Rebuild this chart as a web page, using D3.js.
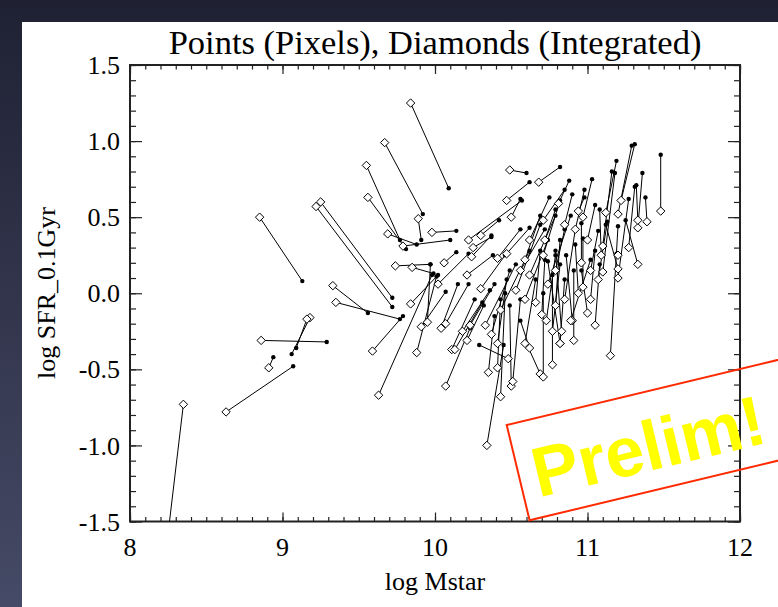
<!DOCTYPE html>
<html><head><meta charset="utf-8">
<script src="https://cdn.jsdelivr.net/npm/d3@7"></script>
<style>html,body{margin:0;padding:0;background:#2e3044;}svg{display:block}</style>
</head><body><svg id="c" width="778" height="607"></svg>
<script>
// ---- data ----
const titleText = "Points (Pixels), Diamonds (Integrated)";
const xLabel = "log Mstar";
const yLabel = "log SFR_0.1Gyr";
const xTicks = [8, 9, 10, 11, 12];
const xTickLabels = ["8", "9", "10", "11", "12"];
const yTicks = [-1.5, -1.0, -0.5, 0.0, 0.5, 1.0, 1.5];
const yTickLabels = ["-1.5", "-1.0", "-0.5", "0.0", "0.5", "1.0", "1.5"];
// integrated (diamonds)
const diamondX = [8.35,8.63,8.85,8.86,9.18,9.16,8.91,9.22,9.25,9.33,9.35,9.84,9.67,9.55,9.56,9.89,9.69,9.79,9.98,9.74,9.85,9.84,10.06,9.59,9.63,9.88,9.91,9.95,
10.49,10.47,10.68,10.50,10.22,10.30,10.25,10.24,10.02,10.21,10.41,10.47,11.48,11.22,11.20,11.12,11.10,11.10,11.33,11.33,11.27,11.39,11.20,11.33,11.15,11.20,11.09,10.97,10.81,10.94,11.02,10.96,10.97,
10.34,10.07,10.48,10.35,10.41,10.43,11.00,10.91,10.90,10.82,10.83,10.94,10.04,10.07,10.11,10.13,10.18,10.21,10.23,10.37,10.41,10.50,10.51,10.69,10.71,10.77,10.62,10.59,10.70,10.73,10.66,10.77,10.82,
10.71,10.71,10.53,10.59,10.43,10.62,10.74,10.56,10.30,10.33,10.85,11.02,11.05,10.89,10.79,11.07,11.00,10.92,10.85,10.72,10.62,10.59,10.79,11.20];
const diamondY = [-0.73,-0.78,0.50,-0.31,-0.16,-0.17,-0.49,0.57,0.60,0.05,-0.06,1.25,0.99,0.84,0.63,0.49,0.39,0.31,0.40,0.18,0.17,-0.07,0.20,-0.38,-0.67,-0.39,-0.22,-0.19,
0.81,0.61,0.73,0.50,0.35,0.38,0.30,0.24,0.06,0.12,0.23,0.26,0.54,0.61,0.52,0.53,0.31,0.14,0.43,0.48,0.30,0.47,0.10,0.19,-0.41,0.25,0.25,0.50,0.59,0.54,0.15,0.20,0.04,
-1.00,-0.61,-0.43,-0.52,-0.49,-0.68,-0.13,-0.31,-0.18,-0.33,-0.25,0.00,-0.23,-0.20,-0.37,-0.37,-0.25,-0.31,-0.21,-0.27,-0.33,-0.61,-0.58,-0.53,-0.55,-0.47,-0.36,-0.33,-0.14,-0.18,-0.06,-0.25,-0.33,
0.25,0.48,0.02,-0.04,-0.11,0.12,0.06,0.15,0.03,-0.21,-0.04,-0.04,-0.21,-0.18,-0.08,0.09,0.35,0.42,0.45,0.35,0.35,0.22,0.15,0.16];
// pixel-based (points)
const pointX = [8.20,9.07,9.13,9.29,9.06,9.09,8.94,9.72,9.72,9.56,9.77,10.09,9.92,9.77,9.81,9.91,9.88,10.10,10.14,9.97,9.99,10.02,10.14,9.79,9.98,10.01,10.07,9.97,
10.60,10.62,10.82,10.56,10.57,10.42,10.37,10.37,10.22,10.38,10.56,10.62,11.48,11.31,11.29,11.19,11.16,11.18,11.36,11.32,11.31,11.38,11.27,11.25,11.20,11.19,11.08,11.03,10.88,10.98,11.07,10.96,10.97,
10.45,10.23,10.29,10.39,10.43,10.46,10.96,10.91,10.86,10.74,10.79,10.92,10.15,10.22,10.26,10.31,10.36,10.32,10.39,10.49,10.47,10.49,10.56,10.60,10.71,10.77,10.56,10.66,10.72,10.79,10.69,10.82,10.85,
10.82,10.85,10.69,10.74,10.62,10.79,10.89,10.72,10.46,10.53,10.92,11.05,11.08,11.02,10.82,11.13,11.05,10.98,10.90,10.79,10.75,10.69,10.85,11.12];
const pointY = [-2.00,-0.48,0.08,-0.32,-0.40,-0.36,-0.42,-0.09,-0.03,-0.13,-0.17,0.69,0.52,0.35,0.29,0.35,0.32,0.35,0.41,0.19,0.13,0.12,0.27,-0.15,0.12,0.11,0.01,0.19,
0.79,0.73,0.83,0.62,0.61,0.48,0.37,0.38,0.26,0.25,0.42,0.43,0.91,0.98,0.97,0.87,0.80,0.79,0.79,0.71,0.70,0.63,0.62,0.48,0.44,0.26,0.55,0.75,0.74,0.63,0.41,0.46,0.36,
-0.34,-0.23,-0.34,-0.15,-0.04,0.00,0.15,0.15,0.25,0.21,0.28,0.32,0.06,0.06,-0.04,-0.06,0.02,-0.08,0.06,0.15,0.09,-0.08,-0.04,-0.33,0.00,0.12,-0.18,0.09,0.22,0.25,0.28,0.19,0.09,
0.61,0.68,0.45,0.35,0.28,0.51,0.51,0.42,0.25,0.19,0.42,0.28,0.19,0.22,0.35,0.47,0.58,0.68,0.65,0.55,0.63,0.51,0.42,0.45];

// ---- drawing ----
const W = 778, H = 607;
const svg = d3.select("#c");
const defs = svg.append("defs");
const g0 = defs.append("linearGradient").attr("id","bg").attr("x1","0").attr("y1","0").attr("x2","0").attr("y2","1");
g0.append("stop").attr("offset","0").attr("stop-color","#1f2133");
g0.append("stop").attr("offset","1").attr("stop-color","#454a66");
svg.append("rect").attr("width",W).attr("height",H).attr("fill","url(#bg)");
svg.append("rect").attr("x",22).attr("y",22).attr("width",W-22).attr("height",H-22).attr("fill","#ffffff");

const x = d3.scaleLinear().domain([8,12]).range([130,740]);
const y = d3.scaleLinear().domain([-1.5,1.5]).range([521.5,65]);

defs.append("clipPath").attr("id","plotclip").append("rect")
  .attr("x",130).attr("y",65).attr("width",610).attr("height",456.5);

const serif = "'Liberation Serif','Times New Roman',serif";

svg.append("text").attr("x",435).attr("y",54).attr("text-anchor","middle")
  .attr("font-family",serif).attr("font-size",34.5).attr("fill","#000").text(titleText);

const xMinor = d3.range(80,121).map(v=>v/10);
const yMinor = d3.range(-15,16).map(v=>v/10);
function styleAxis(sel){ sel.select(".domain").remove(); sel.selectAll("line").attr("stroke","#222").attr("stroke-width",1.2); }
svg.append("g").attr("transform","translate(0,521.5)").call(d3.axisBottom(x).tickValues(xMinor).tickSize(-4.5).tickFormat("")).call(styleAxis);
svg.append("g").attr("transform","translate(0,521.5)").call(d3.axisBottom(x).tickValues(xTicks).tickSize(-9).tickFormat("")).call(styleAxis);
svg.append("g").attr("transform","translate(0,65)").call(d3.axisTop(x).tickValues(xMinor).tickSize(-4.5).tickFormat("")).call(styleAxis);
svg.append("g").attr("transform","translate(0,65)").call(d3.axisTop(x).tickValues(xTicks).tickSize(-9).tickFormat("")).call(styleAxis);
svg.append("g").attr("transform","translate(130,0)").call(d3.axisLeft(y).tickValues(yMinor).tickSize(-6).tickFormat("")).call(styleAxis);
svg.append("g").attr("transform","translate(130,0)").call(d3.axisLeft(y).tickValues(yTicks).tickSize(-12).tickFormat("")).call(styleAxis);
svg.append("g").attr("transform","translate(740,0)").call(d3.axisRight(y).tickValues(yMinor).tickSize(-6).tickFormat("")).call(styleAxis);
svg.append("g").attr("transform","translate(740,0)").call(d3.axisRight(y).tickValues(yTicks).tickSize(-12).tickFormat("")).call(styleAxis);

svg.append("rect").attr("x",x(8)).attr("y",y(1.5)).attr("width",x(12)-x(8)).attr("height",y(-1.5)-y(1.5))
  .attr("fill","none").attr("stroke","#222").attr("stroke-width",2);

svg.append("g").selectAll("text").data(xTicks).join("text")
  .attr("x",d=>x(d)).attr("y",556).attr("text-anchor","middle")
  .attr("font-family",serif).attr("font-size",26).attr("fill","#000")
  .text((d,i)=>xTickLabels[i]);
svg.append("g").selectAll("text").data(yTicks).join("text")
  .attr("x",120).attr("y",d=>y(d)).attr("dy","0.35em").attr("text-anchor","end")
  .attr("font-family",serif).attr("font-size",26).attr("fill","#000")
  .text((d,i)=>yTickLabels[i]);

svg.append("text").attr("x",435).attr("y",590).attr("text-anchor","middle")
  .attr("font-family",serif).attr("font-size",26).attr("fill","#000").text(xLabel);
svg.append("text").attr("transform","translate(55,293) rotate(-90)").attr("text-anchor","middle")
  .attr("font-family",serif).attr("font-size",26).attr("fill","#000").text(yLabel);

const pairs = diamondX.map((dx,i)=>({dx, dy:diamondY[i], px:pointX[i], py:pointY[i]}));
const plot = svg.append("g").attr("clip-path","url(#plotclip)");
plot.selectAll("line.l").data(pairs).join("line").attr("class","l")
  .attr("x1",d=>x(d.dx)).attr("y1",d=>y(d.dy)).attr("x2",d=>x(d.px)).attr("y2",d=>y(d.py))
  .attr("stroke","#000").attr("stroke-width",1);
plot.selectAll("circle").data(pairs).join("circle")
  .attr("cx",d=>x(d.px)).attr("cy",d=>y(d.py)).attr("r",2.2).attr("fill","#000");
const r = 4.2;
plot.selectAll("path.dm").data(pairs).join("path").attr("class","dm")
  .attr("transform",d=>`translate(${x(d.dx)},${y(d.dy)})`)
  .attr("d",`M0,${-r}L${r},0L0,${r}L${-r},0Z`)
  .attr("fill","#fff").attr("stroke","#000").attr("stroke-width",1);

const st = svg.append("g").attr("transform","translate(506.7,425) rotate(-13.5)");
st.append("rect").attr("x",0).attr("y",0).attr("width",300).attr("height",98)
  .attr("fill","none").attr("stroke","#ff2a00").attr("stroke-width",2);
st.append("text").attr("x",14).attr("y",78)
  .attr("font-family","'Liberation Sans',Arial,sans-serif").attr("font-weight","bold")
  .attr("font-size",70).attr("fill","#ffff00").text("Prelim!");
</script></body></html>
